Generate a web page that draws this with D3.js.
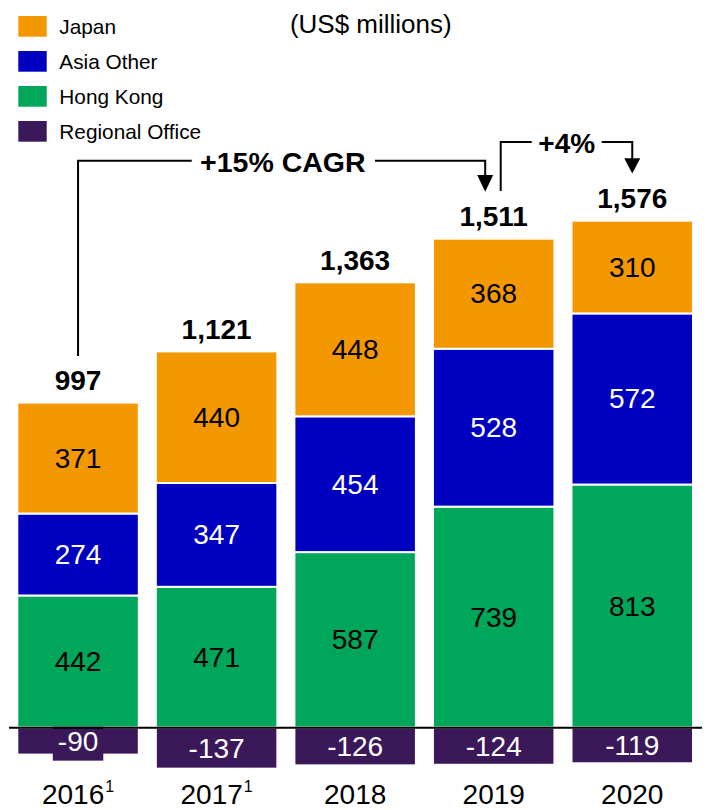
<!DOCTYPE html>
<html>
<head>
<meta charset="utf-8">
<script src="https://cdn.jsdelivr.net/npm/d3@7"></script>
<style>
  html, body { margin: 0; padding: 0; background: #fff; }
  svg { display: block; font-family: "Liberation Sans", Arial, sans-serif; }
</style>
</head>
<body>
<svg id="chart" width="727" height="810"></svg>
<script>
// ---- data ----
const years = ["2016", "2017", "2018", "2019", "2020"];
const footnotes = ["1", "1", "", "", ""];
const japan = [371, 440, 448, 368, 310];
const asiaOther = [274, 347, 454, 528, 572];
const hongKong = [442, 471, 587, 739, 813];
const regionalOffice = [-90, -137, -126, -124, -119];
const totals = [997, 1121, 1363, 1511, 1576];
const seriesNames = ["Japan", "Asia Other", "Hong Kong", "Regional Office"];
const unitLabel = "(US$ millions)";
const cagrLabel = "+15% CAGR";
const yoyLabel = "+4%";

// ---- styles ----
const colors = { "Japan": "#F39800", "Asia Other": "#0000C0", "Hong Kong": "#00A65A", "Regional Office": "#3A185A" };
const textColors = { "Japan": "#000", "Asia Other": "#fff", "Hong Kong": "#000", "Regional Office": "#fff" };
const fmt = d3.formatLocale({ decimal: ".", thousands: ",", grouping: [3], currency: ["$", ""], minus: "-" }).format(",");

const svg = d3.select("#chart");
const x = d3.scaleBand().domain(years).range([17.3, 693]).paddingInner(0.123).paddingOuter(0);
const y = d3.scaleLinear().domain([-200, 1800]).range([787.5, 189.3]);

// build stacked segments (bottom-up: Hong Kong, Asia Other, Japan), regional below zero
const segs = [];
years.forEach((yr, i) => {
  let base = 0;
  [["Hong Kong", hongKong[i]], ["Asia Other", asiaOther[i]], ["Japan", japan[i]]].forEach(([name, v]) => {
    segs.push({ yr, name, v, y0: base, y1: base + v });
    base += v;
  });
  segs.push({ yr, name: "Regional Office", v: regionalOffice[i], y0: regionalOffice[i], y1: 0 });
});

const g = svg.append("g");
g.selectAll("rect.seg").data(segs).join("rect")
  .attr("class", "seg")
  .attr("x", d => x(d.yr))
  .attr("width", x.bandwidth())
  .attr("y", d => y(d.y1))
  .attr("height", d => y(d.y0) - y(d.y1))
  .attr("fill", d => colors[d.name])
  .attr("stroke", "#fff")
  .attr("stroke-width", 2);

// segment labels
const labG = svg.append("g");
segs.forEach(d => {
  const cx = x(d.yr) + x.bandwidth() / 2;
  const cy = (y(d.y0) + y(d.y1)) / 2;
  const t = labG.append("text")
    .attr("x", cx).attr("y", cy)
    .attr("text-anchor", "middle")
    .attr("dominant-baseline", "central")
    .attr("font-size", 28)
    .attr("fill", textColors[d.name])
    .text(fmt(d.v));
  const bb = t.node().getBBox();
  const segH = y(d.y0) - y(d.y1);
  if (bb.height > segH) {
    labG.insert("rect", () => t.node())
      .attr("x", bb.x - 5).attr("y", bb.y + 1)
      .attr("width", bb.width + 10).attr("height", bb.height + 3)
      .attr("fill", colors[d.name]);
  }
});

// zero baseline
svg.append("line")
  .attr("x1", 9).attr("x2", 702)
  .attr("y1", y(0)).attr("y2", y(0))
  .attr("stroke", "#000").attr("stroke-width", 2);

// totals
years.forEach((yr, i) => {
  const top = hongKong[i] + asiaOther[i] + japan[i];
  svg.append("text")
    .attr("x", x(yr) + x.bandwidth() / 2)
    .attr("y", y(top) - 12.5)
    .attr("text-anchor", "middle")
    .attr("font-size", 28)
    .attr("font-weight", "bold")
    .attr("fill", "#000")
    .text(fmt(totals[i]));
});

// x axis
const xAxis = svg.append("g")
  .attr("transform", "translate(0,784)")
  .call(d3.axisBottom(x).tickSize(0).tickPadding(0));
xAxis.select(".domain").remove();
xAxis.selectAll("text")
  .attr("font-size", 28)
  .attr("font-family", "Liberation Sans, Arial, sans-serif")
  .attr("fill", "#000")
  .each(function(d) {
    const fn = footnotes[years.indexOf(d)];
    if (fn) {
      d3.select(this).append("tspan")
        .attr("font-size", 16)
        .attr("dy", "-0.75em")
        .attr("dx", 1)
        .text(fn);
    }
  });

// legend
const leg = svg.append("g");
seriesNames.forEach((name, i) => {
  const yy = 16 + i * 35;
  leg.append("rect").attr("x", 18.3).attr("y", yy).attr("width", 28.4).attr("height", 20.7)
    .attr("fill", colors[name]);
  leg.append("text").attr("x", 59.3).attr("y", yy + 18.3)
    .attr("font-size", 20.8).attr("fill", "#000").text(name);
});

// unit label
svg.append("text").attr("x", 370.8).attr("y", 32.5)
  .attr("text-anchor", "middle").attr("font-size", 26).attr("fill", "#000").text(unitLabel);

// annotations
const cx = yr => x(yr) + x.bandwidth() / 2;
const ann = svg.append("g").attr("fill", "none").attr("stroke", "#000").attr("stroke-width", 2);
const cagrY = 160.7;
const x16 = cx("2016"), a19 = cx("2019") - 8.5;
// CAGR bracket
ann.append("path").attr("d", `M${x16},356 V${cagrY} H191.7`);
ann.append("path").attr("d", `M375,${cagrY} H${a19} V176`);
svg.append("path").attr("d", `M${a19 - 8},175 L${a19 + 8},175 L${a19},191.7 Z`).attr("fill", "#000");
svg.append("text").attr("x", 282.8).attr("y", 171.5).attr("text-anchor", "middle")
  .attr("font-size", 28.5).attr("font-weight", "bold").attr("fill", "#000").text(cagrLabel);
// +4% bracket
const b19 = cx("2019") + 7, a20 = cx("2020"), yoyY = 142;
ann.append("path").attr("d", `M${b19},191 V${yoyY} H531.7`);
ann.append("path").attr("d", `M601.7,${yoyY} H${a20} V159`);
svg.append("path").attr("d", `M${a20 - 8},158.3 L${a20 + 8},158.3 L${a20},173.5 Z`).attr("fill", "#000");
svg.append("text").attr("x", 566.7).attr("y", 152.5).attr("text-anchor", "middle")
  .attr("font-size", 28).attr("font-weight", "bold").attr("fill", "#000").text(yoyLabel);
</script>
</body>
</html>
